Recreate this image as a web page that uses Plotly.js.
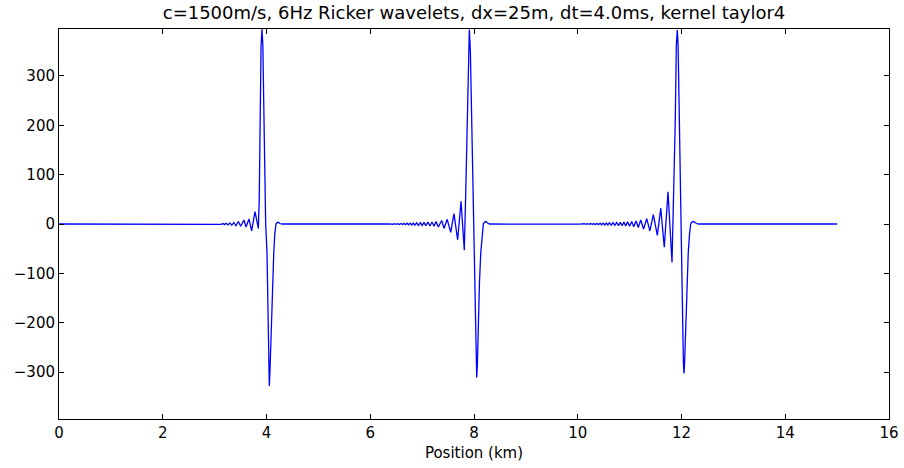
<!DOCTYPE html>
<html>
<head>
<meta charset="utf-8">
<script src="https://cdn.plot.ly/plotly-3.0.1.min.js"></script>
<style>html,body{margin:0;padding:0;background:#fff;}#chart{width:904px;height:468px;}</style>
</head>
<body>
<div id="chart"></div>
<script>
// Chart text
const chartTitle = "c=1500m/s, 6Hz Ricker wavelets, dx=25m, dt=4.0ms, kernel taylor4";
const xLabel = "Position (km)";
const xTickVals = [0, 2, 4, 6, 8, 10, 12, 14, 16];
const yTickVals = [-300, -200, -100, 0, 100, 200, 300];

// Flat parts of the trace (km, amplitude)
const startX = [0, 3.0];
const startY = [0, 0];

// Wavelet 1 (near 4 km)
const wave1X = [3.04, 3.07, 3.10, 3.13, 3.16, 3.19, 3.225, 3.26, 3.295, 3.33, 3.37, 3.41, 3.457, 3.502, 3.566, 3.605, 3.663, 3.714, 3.778, 3.843,
  3.86, 3.875, 3.895, 3.913, 3.93, 3.952, 3.97, 3.984, 4.01, 4.03, 4.045, 4.054, 4.065, 4.08, 4.10, 4.12, 4.14, 4.16, 4.183, 4.205, 4.228, 4.26, 4.30];
const wave1Y = [0.3, -0.5, 0.6, -0.8, 1.0, -1.2, 1.5, -1.8, 2.2, -2.6, 3.0, -3.5, 5.0, -4.5, 8.0, -6.0, 10.0, -14.0, 25.0, -9.0,
  50, 211, 360, 395, 360, 211, 80, 0, -59, -195, -300, -328, -305, -250, -195, -120, -59, -20, 0, 3, 3.5, 1, 0];

// Wavelet 2 (near 8 km)
const wave2X = [6.35, 6.38, 6.41, 6.44, 6.47, 6.50, 6.53, 6.56, 6.59, 6.62, 6.65, 6.68, 6.71, 6.74, 6.77, 6.80, 6.83, 6.86, 6.895, 6.93,
  6.965, 7.0, 7.035, 7.07, 7.11, 7.15, 7.19, 7.23, 7.268, 7.313, 7.377, 7.422, 7.483, 7.551, 7.614, 7.685, 7.75, 7.813,
  7.84, 7.871, 7.89, 7.91, 7.93, 7.956, 7.972, 7.987, 8.006, 8.026, 8.04, 8.052, 8.065, 8.083, 8.105, 8.13, 8.155, 8.18, 8.205, 8.231, 8.26, 8.30];
const wave2Y = [0.3, -0.3, 0.4, -0.5, 0.6, -0.7, 0.8, -0.9, 1.0, -1.1, 1.2, -1.4, 1.5, -1.6, 1.8, -1.9, 2.0, -2.2, 2.4, -2.6,
  2.8, -3.0, 3.2, -3.5, 3.7, -4.0, 4.2, -4.5, 5.0, -6.0, 7.0, -9.0, 9.5, -17.0, 21.0, -32.0, 46.0, -53.0,
  60, 211, 360, 394, 350, 211, 90, 0, -59, -195, -285, -311, -285, -195, -120, -59, -20, 0, 4, 5, 2, 0];

// Wavelet 3 (near 12 km)
const wave3X = [10.04, 10.07, 10.10, 10.13, 10.16, 10.19, 10.22, 10.25, 10.28, 10.31, 10.34, 10.37, 10.40, 10.43, 10.46, 10.49, 10.52, 10.55, 10.58, 10.61,
  10.645, 10.68, 10.715, 10.75, 10.785, 10.82, 10.855, 10.89, 10.925, 10.96, 11.0, 11.04, 11.08, 11.123, 11.167, 11.213, 11.27, 11.33, 11.39, 11.457,
  11.534, 11.60, 11.668, 11.74, 11.817, 11.85, 11.88, 11.90, 11.919, 11.935, 11.957, 11.972, 11.985, 12.003, 12.022, 12.036, 12.048, 12.06, 12.087, 12.108,
  12.13, 12.155, 12.177, 12.20, 12.225, 12.25, 12.29, 12.33];
const wave3Y = [-0.3, 0.3, -0.4, 0.5, -0.6, 0.7, -0.8, 0.9, -1.0, 1.1, -1.2, 1.3, -1.4, 1.5, -1.6, 1.7, -1.8, 1.9, -2.0, 2.2,
  -2.4, 2.6, -2.8, 3.0, -3.2, 3.4, -3.6, 3.8, -4.0, 4.3, -4.6, 5.0, -5.5, 6.0, -7.0, 8.0, -10.0, 11.0, -14.0, 19.0,
  -23.0, 32.0, -47.0, 65.0, -78.0, 60, 211, 360, 393, 360, 211, 90, 0, -59, -195, -280, -303, -280, -195, -120,
  -59, -20, 0, 4, 5, 4, 1, 0];

const endX = [15.0];
const endY = [0];

const xs = [].concat(startX, wave1X, wave2X, wave3X, endX);
const ys = [].concat(startY, wave1Y, wave2Y, wave3Y, endY);

const font = {family: "DejaVu Sans, sans-serif", color: "#000", size: 15};

const axisCommon = {
  showline: true, linecolor: "#000", linewidth: 1, mirror: "ticks",
  ticks: "inside", ticklen: 5, tickwidth: 1, tickcolor: "#000",
  showgrid: false, zeroline: false, tickfont: font
};

Plotly.newPlot("chart", [{
  x: xs, y: ys, type: "scatter", mode: "lines",
  line: {color: "#0000ff", width: 1.3},
  hoverinfo: "skip"
}], {
  width: 904, height: 468,
  margin: {l: 59, r: 15, t: 29, b: 49},
  paper_bgcolor: "#fff", plot_bgcolor: "#fff",
  font: font,
  showlegend: false,
  title: {text: chartTitle, font: {family: font.family, size: 18, color: "#000"},
          x: 0.5, xref: "paper", xanchor: "center", y: 0.972, yref: "container", yanchor: "middle"},
  xaxis: Object.assign({}, axisCommon, {range: [0, 16], tickvals: xTickVals,
          title: {text: xLabel, font: font, standoff: 6}}),
  yaxis: Object.assign({}, axisCommon, {range: [-395, 395], tickvals: yTickVals})
}, {staticPlot: true});
</script>
</body>
</html>
